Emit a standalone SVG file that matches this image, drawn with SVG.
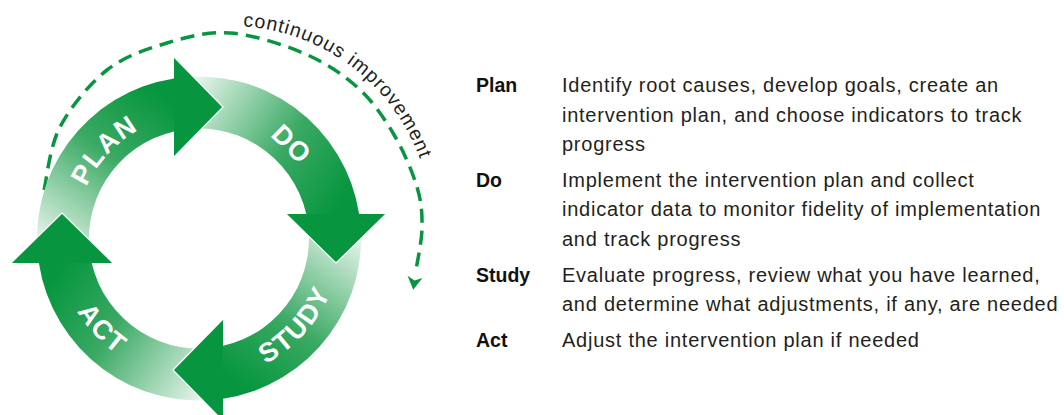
<svg xmlns="http://www.w3.org/2000/svg" width="1064" height="415" viewBox="0 0 1064 415">
  <style>
    .ring-label { font-family: "Liberation Sans", Arial, sans-serif; font-weight: bold; font-size: 27px; fill: #ffffff; letter-spacing: 1.5px; }
    .head { fill: #07963f; stroke: #ffffff; stroke-width: 1.2; stroke-linejoin: miter; }
    .dash { fill: none; stroke: #07963f; stroke-width: 3.5; stroke-dasharray: 14 8; }
    .arc-text { font-family: "Liberation Sans", Arial, sans-serif; font-size: 19.5px; fill: #231f20; letter-spacing: 1px; }
    .key { font-family: "Liberation Sans", Arial, sans-serif; font-weight: bold; font-size: 19.5px; fill: #111111; }
    .desc { font-family: "Liberation Sans", Arial, sans-serif; font-size: 20px; fill: #231f20; letter-spacing: 0.75px; }
  </style>
  <defs>
    <linearGradient id="gPlan" gradientUnits="userSpaceOnUse" x1="65" y1="263" x2="174" y2="105">
      <stop offset="0" stop-color="#ecf7f0"/>
      <stop offset="0.6" stop-color="#3aa963"/>
      <stop offset="1" stop-color="#07963f"/>
    </linearGradient>
    <linearGradient id="gDo" gradientUnits="userSpaceOnUse" x1="174" y1="105" x2="333" y2="214">
      <stop offset="0" stop-color="#ecf7f0"/>
      <stop offset="0.6" stop-color="#3aa963"/>
      <stop offset="1" stop-color="#07963f"/>
    </linearGradient>
    <linearGradient id="gStudy" gradientUnits="userSpaceOnUse" x1="333" y1="214" x2="223" y2="372">
      <stop offset="0" stop-color="#ecf7f0"/>
      <stop offset="0.6" stop-color="#3aa963"/>
      <stop offset="1" stop-color="#07963f"/>
    </linearGradient>
    <linearGradient id="gAct" gradientUnits="userSpaceOnUse" x1="223" y1="372" x2="65" y2="263">
      <stop offset="0" stop-color="#ecf7f0"/>
      <stop offset="0.6" stop-color="#3aa963"/>
      <stop offset="1" stop-color="#07963f"/>
    </linearGradient>
    <marker id="dashHead" markerUnits="userSpaceOnUse" viewBox="0 -20 40 40" markerWidth="40" markerHeight="40" refX="0" refY="0" orient="auto" overflow="visible">
      <path d="M7,-7.5 L20,0 L7,7.5 L10.5,0 Z" fill="#07963f"/>
    </marker>
    <path id="tpCI" d="M243,26.4 A202,202 0 0 1 428.9,192.9"/>
    <path id="tpPlan" d="M75,238.5 A124,124 0 0 1 190.35,114.8"/>
    <path id="tpStudy" d="M211.38,379.96 A142,142 0 0 0 340.98,236.02"/>
    <path id="tpAct" d="M57,238.5 A142,142 0 0 0 189.1,380.15"/>
  </defs>

  <!-- continuous improvement dashed arc -->
  <g id="continuous-improvement">
    <path class="dash" marker-end="url(#dashHead)" d="M44,190 C46.7,179.5 49.5,147 60,127 C70.5,107 89.2,84 107,70 C124.8,56 146.5,49.2 167,43 C187.5,36.8 207.3,31.3 230,33 C252.7,34.7 281.8,44 303,53 C324.2,62 342,73.7 357,87 C372,100.3 383,116.3 393,133 C403,149.7 412.2,171.2 417,187 C421.8,202.8 422.2,214.2 422,228 C421.8,241.8 417,263 416,270"/>
    <text class="arc-text"><textPath href="#tpCI" startOffset="0">continuous improvement</textPath></text>
  </g>

  <!-- ring segments -->
  <g id="plan">
    <path fill="url(#gPlan)" d="M38.86,263 A162,162 0 0 1 174,78.44 L174,131.38 A110,110 0 0 0 91.76,263 Z"/>
  </g>
  <g id="do">
    <path fill="url(#gDo)" d="M174,78.44 A162,162 0 0 1 359.14,214 L306.24,214 A110,110 0 0 0 174,131.38 Z"/>
  </g>
  <g id="study">
    <path fill="url(#gStudy)" d="M359.14,214 A162,162 0 0 1 223,398.71 L223,345.85 A110,110 0 0 0 306.24,214 Z"/>
  </g>
  <g id="act">
    <path fill="url(#gAct)" d="M223,398.71 A162,162 0 0 1 38.86,263 L91.76,263 A110,110 0 0 0 223,345.85 Z"/>
  </g>

  <!-- connectors: arrowheads between stages -->
  <g id="connectors">
    <path class="head" d="M174,57 L223,107 L174,157"/>
    <path class="head" d="M386,214 L336,263 L286,214"/>
    <path class="head" d="M223,421 L173,370 L223,319"/>
    <path class="head" d="M11,263 L62,213 L113,263"/>
  </g>

  <!-- ring labels -->
  <g id="ring-labels">
    <text class="ring-label" text-anchor="middle"><textPath href="#tpPlan" startOffset="50%">PLAN</textPath></text>
    <text class="ring-label" text-anchor="middle" transform="translate(292,144) rotate(44)" x="0" y="9.5">DO</text>
    <text class="ring-label" text-anchor="middle"><textPath href="#tpStudy" startOffset="50%">STUDY</textPath></text>
    <text class="ring-label" text-anchor="middle"><textPath href="#tpAct" startOffset="50%">ACT</textPath></text>
  </g>

  <!-- legend -->
  <g id="legend">
    <g id="legend-plan">
      <text class="key" x="476" y="92">Plan</text>
      <text class="desc" x="562" y="92">Identify root causes, develop goals, create an</text>
      <text class="desc" x="562" y="121.5">intervention plan, and choose indicators to track</text>
      <text class="desc" x="562" y="151">progress</text>
    </g>
    <g id="legend-do">
      <text class="key" x="476" y="186.5">Do</text>
      <text class="desc" x="562" y="186.5">Implement the intervention plan and collect</text>
      <text class="desc" x="562" y="216">indicator data to monitor fidelity of implementation</text>
      <text class="desc" x="562" y="245.5">and track progress</text>
    </g>
    <g id="legend-study">
      <text class="key" x="476" y="281.5">Study</text>
      <text class="desc" x="562" y="281.5">Evaluate progress, review what you have learned,</text>
      <text class="desc" x="562" y="311">and determine what adjustments, if any, are needed</text>
    </g>
    <g id="legend-act">
      <text class="key" x="476" y="347">Act</text>
      <text class="desc" x="562" y="347">Adjust the intervention plan if needed</text>
    </g>
  </g>
</svg>
